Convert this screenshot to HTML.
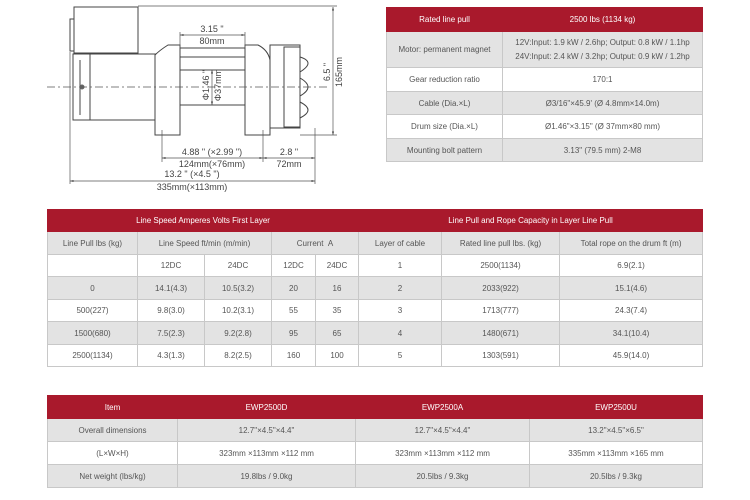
<!DOCTYPE html>
<html><head><meta charset="utf-8"><style>
body{margin:0;width:750px;height:500px;background:#fff;position:relative;overflow:hidden;font-family:"Liberation Sans",sans-serif;}
table{position:absolute;border-collapse:collapse;font-size:8px;color:#555;table-layout:fixed;}
td{border:1px solid #c8c8c8;text-align:center;padding:0;overflow:hidden;white-space:nowrap;}
tr.h td{background:#a9192c;color:#fff;border-color:#a9192c;}
tr.g td{background:#e3e3e3;}
</style></head><body>
<svg width="750" height="500" style="position:absolute;left:0;top:0" font-family="Liberation Sans, sans-serif">
<defs><marker id="a" viewBox="0 0 10 10" refX="10" refY="5" markerWidth="5" markerHeight="5" orient="auto-start-reverse"><path d="M0 2 L10 5 L0 8 Z" fill="#444"/></marker></defs>
<g stroke="#444" fill="#fff" stroke-width="1">
<rect x="70" y="19" width="5" height="32"/>
<rect x="74" y="7" width="64" height="46"/>
<rect x="73" y="54" width="17" height="66"/>
<rect x="90" y="54" width="75" height="66"/>
<path d="M155 123 V55 Q160 50 168 45 H180 V135 H155 Z"/>
<rect x="180" y="48" width="65" height="57"/>
<path d="M245 135 V45 H258 Q268 50 270 60 V135 Z"/>
<rect x="270" y="45" width="30" height="83"/>
<rect x="284" y="47" width="16" height="80"/>
<path d="M300 57 Q316 62 300 72 M300 78 Q316 87 300 96 M300 102 Q316 110 300 118" fill="none"/>
<line x1="180" y1="57" x2="245" y2="57"/><line x1="180" y1="70" x2="245" y2="70"/>
<line x1="80" y1="60" x2="80" y2="115"/>
</g>
<circle cx="82" cy="87" r="2.5" fill="#666"/>
<g stroke="#555" stroke-width="0.7" fill="none">
<line x1="47" y1="87" x2="330" y2="87" stroke-dasharray="8 3 2 3"/>
<line x1="333" y1="7" x2="333" y2="135" marker-start="url(#a)" marker-end="url(#a)"/>
<line x1="138" y1="6" x2="337" y2="6"/><line x1="300" y1="135" x2="337" y2="135"/>
<line x1="180" y1="32" x2="180" y2="48"/><line x1="245" y1="32" x2="245" y2="48"/>
<line x1="180" y1="35" x2="245" y2="35" marker-start="url(#a)" marker-end="url(#a)"/>
<line x1="162" y1="130" x2="162" y2="162"/><line x1="263" y1="130" x2="263" y2="162"/><line x1="315" y1="128" x2="315" y2="184"/>
<line x1="70" y1="52" x2="70" y2="184"/>
<line x1="162" y1="158" x2="263" y2="158" marker-start="url(#a)" marker-end="url(#a)"/>
<line x1="263" y1="158" x2="315" y2="158" marker-start="url(#a)" marker-end="url(#a)"/>
<line x1="70" y1="181" x2="315" y2="181" marker-start="url(#a)" marker-end="url(#a)"/>
<line x1="212" y1="70" x2="212" y2="105" marker-start="url(#a)" marker-end="url(#a)"/>
</g>
<g font-size="9" fill="#444">
<text x="212" y="32" text-anchor="middle">3.15 "</text>
<text x="212" y="44" text-anchor="middle">80mm</text>
<text x="212" y="155" text-anchor="middle">4.88 " (×2.99 ")</text>
<text x="212" y="167" text-anchor="middle">124mm(×76mm)</text>
<text x="289" y="155" text-anchor="middle">2.8 "</text>
<text x="289" y="167" text-anchor="middle">72mm</text>
<text x="192" y="177" text-anchor="middle">13.2 " (×4.5 ")</text>
<text x="192" y="190" text-anchor="middle">335mm(×113mm)</text>
<text transform="translate(330,72) rotate(-90)" text-anchor="middle">6.5 "</text>
<text transform="translate(342,72) rotate(-90)" text-anchor="middle">165mm</text>
<text transform="translate(209,85) rotate(-90)" text-anchor="middle">Φ1.46 "</text>
<text transform="translate(221,85) rotate(-90)" text-anchor="middle">Φ37mm</text>
</g>
</svg>

<table style="left:386px;top:7px;width:316px;">
<col style="width:116px"><col style="width:200px">
<tr class="h" style="height:24px"><td>Rated line pull</td><td>2500 lbs (1134 kg)</td></tr>
<tr class="g" style="height:36px"><td>Motor: permanent magnet</td><td style="line-height:14px">12V:Input: 1.9 kW / 2.6hp; Output: 0.8 kW / 1.1hp<br>24V:Input: 2.4 kW / 3.2hp; Output: 0.9 kW / 1.2hp</td></tr>
<tr style="height:24px"><td>Gear reduction ratio</td><td>170:1</td></tr>
<tr class="g" style="height:23px"><td>Cable (Dia.×L)</td><td>Ø3/16"×45.9' (Ø 4.8mm×14.0m)</td></tr>
<tr style="height:24px"><td>Drum size (Dia.×L)</td><td>Ø1.46"×3.15" (Ø 37mm×80 mm)</td></tr>
<tr class="g" style="height:23px"><td>Mounting bolt pattern</td><td>3.13" (79.5 mm) 2-M8</td></tr>
</table>

<table style="left:47px;top:209px;width:655px;">
<col style="width:90px"><col style="width:67px"><col style="width:67px"><col style="width:44px"><col style="width:43px"><col style="width:83px"><col style="width:118px"><col style="width:143px">
<tr class="h" style="height:22px"><td colspan="5">Line Speed Amperes Volts First Layer</td><td colspan="3">Line Pull and Rope Capacity in Layer Line Pull</td></tr>
<tr class="g" style="height:23px"><td>Line Pull lbs (kg)</td><td colspan="2">Line Speed ft/min (m/min)</td><td colspan="2">Current &nbsp;A</td><td>Layer of cable</td><td>Rated line pull lbs. (kg)</td><td>Total rope on the drum ft (m)</td></tr>
<tr style="height:22px"><td></td><td>12DC</td><td>24DC</td><td>12DC</td><td>24DC</td><td>1</td><td>2500(1134)</td><td>6.9(2.1)</td></tr>
<tr class="g" style="height:23px"><td>0</td><td>14.1(4.3)</td><td>10.5(3.2)</td><td>20</td><td>16</td><td>2</td><td>2033(922)</td><td>15.1(4.6)</td></tr>
<tr style="height:22px"><td>500(227)</td><td>9.8(3.0)</td><td>10.2(3.1)</td><td>55</td><td>35</td><td>3</td><td>1713(777)</td><td>24.3(7.4)</td></tr>
<tr class="g" style="height:23px"><td>1500(680)</td><td>7.5(2.3)</td><td>9.2(2.8)</td><td>95</td><td>65</td><td>4</td><td>1480(671)</td><td>34.1(10.4)</td></tr>
<tr style="height:22px"><td>2500(1134)</td><td>4.3(1.3)</td><td>8.2(2.5)</td><td>160</td><td>100</td><td>5</td><td>1303(591)</td><td>45.9(14.0)</td></tr>
</table>

<table style="left:47px;top:395px;width:655px;">
<col style="width:130px"><col style="width:178px"><col style="width:174px"><col style="width:173px">
<tr class="h" style="height:23px"><td>Item</td><td>EWP2500D</td><td>EWP2500A</td><td>EWP2500U</td></tr>
<tr class="g" style="height:23px"><td>Overall dimensions</td><td>12.7"×4.5"×4.4"</td><td>12.7"×4.5"×4.4"</td><td>13.2"×4.5"×6.5"</td></tr>
<tr style="height:23px"><td>(L×W×H)</td><td>323mm ×113mm ×112 mm</td><td>323mm ×113mm ×112 mm</td><td>335mm ×113mm ×165 mm</td></tr>
<tr class="g" style="height:23px"><td>Net weight (lbs/kg)</td><td>19.8lbs / 9.0kg</td><td>20.5lbs / 9.3kg</td><td>20.5lbs / 9.3kg</td></tr>
</table>
</body></html>
